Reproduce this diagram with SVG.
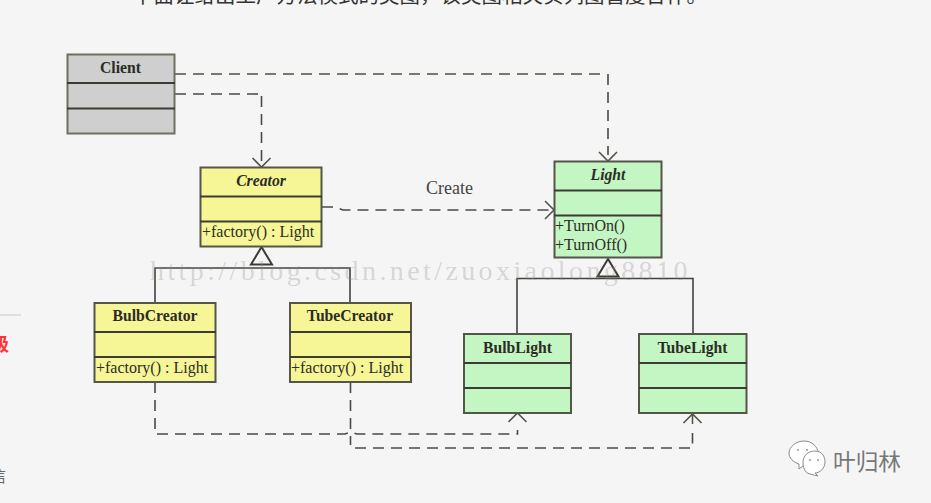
<svg xmlns="http://www.w3.org/2000/svg" width="931" height="503" viewBox="0 0 931 503">
<style>
.box{stroke:#55554a;stroke-width:2}
.div{stroke:#3c3c34;stroke-width:2}
.grey{fill:#cfcfcf}.yellow{fill:#f6f696}.green{fill:#c4f6c4}
text{font-family:"Liberation Serif",serif;fill:#2c2c26}
.title{font-size:15.7px;font-weight:bold;text-anchor:middle}
.abs{font-style:italic}
.op{font-size:16px}
.dash{fill:none;stroke:#4a4a44;stroke-width:1.6;stroke-dasharray:11 7}
.solid{fill:none;stroke:#44443e;stroke-width:1.6}
.head{fill:none;stroke:#55554c;stroke-width:1.6}
.tri{fill:#f5f5f5;stroke:#3c3c36;stroke-width:2}
.cjk{font-family:"Noto Sans CJK SC",sans-serif}
.bubble{fill:#fff;stroke:#8a8a8a;stroke-width:1}
.eye{fill:#999}
</style>
<rect width="931" height="503" fill="#f5f5f5"/>
<text class="cjk" x="133" y="3" style="font-size:20.5px;fill:#333">下面让给出工厂方法模式的类图，该类图相关实列图管度合作。</text>
<path d="M0 315H21" stroke="#c8c8c8" stroke-width="1"/>
<text class="cjk" x="-9" y="351" style="font-size:18px;font-weight:bold;fill:#f33">级</text>
<text class="cjk" x="-10" y="482" style="font-size:16px;fill:#666">信</text>
<g id="connectors">
<path class="dash" d="M175 74H600" style="stroke:#7a7a6c;stroke-width:2"/>
<path class="dash" d="M608 74V155"/>
<path class="head" d="M599 152L608 161L617 152"/>
<path class="dash" d="M175 94H258"/>
<path class="dash" d="M261.500 96V166"/>
<path class="head" d="M252.500 158L261.500 167L270.500 158"/>
<path class="dash" d="M322 207H335L343 210H552"/>
<path class="head" d="M545 201L554 210L545 219"/>
<path class="solid" d="M155 303V268H350V303"/>
<path class="tri" d="M261.500 247L251 264.500H272Z"/>
<path class="solid" d="M517 334V278.500H693V334"/>
<path class="tri" d="M608 259L597.500 276.500H618.500Z"/>
<path class="dash" d="M155 382V434H345L351 432L357 434H517.500V430"/>
<path class="head" d="M508.500 422L517.500 413L526.500 422"/>
<path class="dash" d="M350.500 382V445"/>
<path class="dash" d="M355 448H692.500V433"/>
<path class="head" d="M683.500 423L692.500 414L701.500 423M692.500 414V424"/>
</g>
<g id="client">
<rect class="box grey" x="67.500" y="54.500" width="107" height="79" style="stroke:#6f6f60"/>
<path class="div" d="M67 83H175M67 108.500H175"/>
<text class="title" x="120.500" y="73">Client</text>
</g>
<g id="creator">
<rect class="box yellow" x="200.500" y="167.500" width="121" height="79"/>
<path class="div" d="M200 196.500H322M200 221.500H322"/>
<text class="title abs" x="261" y="186">Creator</text>
<text class="op" x="202" y="237">+factory() : Light</text>
</g>
<g id="bulbcreator">
<rect class="box yellow" x="94.500" y="303" width="121" height="79"/>
<path class="div" d="M94 332H216M94 357H216"/>
<text class="title" x="155" y="321">BulbCreator</text>
<text class="op" x="96" y="373">+factory() : Light</text>
</g>
<g id="tubecreator">
<rect class="box yellow" x="290" y="303" width="121" height="79"/>
<path class="div" d="M290 332H411M290 357H411"/>
<text class="title" x="350" y="321">TubeCreator</text>
<text class="op" x="291" y="373">+factory() : Light</text>
</g>
<g id="light">
<rect class="box green" x="554.500" y="161.500" width="107" height="96"/>
<path class="div" d="M554 190.500H662M554 215.500H662"/>
<text class="title abs" x="608" y="180">Light</text>
<text class="op" x="555" y="231">+TurnOn()</text>
<text class="op" x="555" y="250">+TurnOff()</text>
</g>
<g id="bulblight">
<rect class="box green" x="464" y="334" width="107" height="79"/>
<path class="div" d="M464 363H571M464 388H571"/>
<text class="title" x="517.500" y="353">BulbLight</text>
</g>
<g id="tubelight">
<rect class="box green" x="639" y="334" width="107.500" height="79"/>
<path class="div" d="M639 363H747M639 388H747"/>
<text class="title" x="692.500" y="353">TubeLight</text>
</g>
<text x="426" y="194" style="font-size:18px;fill:#444">Create</text>
<text x="150" y="280" style="font-size:28px;fill:#8a8a8a;fill-opacity:.3;letter-spacing:3.4px">http://blog.csdn.net/zuoxiaolong8810</text>
<g id="watermark">
<path class="bubble" d="M804 441C812 441 818 447 818 453C818 460 812 465 804 465L799 469L799 464C793 462 789 458 789 453C789 447 796 441 804 441Z"/>
<path class="bubble" d="M815 451C823 451 825 458 825 462C825 468 820 473 815 473L818 476L810 474C804 473 803 466 803 462C803 456 808 451 815 451Z"/>
<circle class="eye" cx="798" cy="450" r="1"/>
<circle class="eye" cx="807" cy="450" r="1"/>
<circle class="eye" cx="810" cy="460" r="1"/>
<circle class="eye" cx="818" cy="460" r="1"/>
<text class="cjk" x="833" y="470" style="font-size:22.7px;fill:#777">叶归林</text>
</g>
</svg>
